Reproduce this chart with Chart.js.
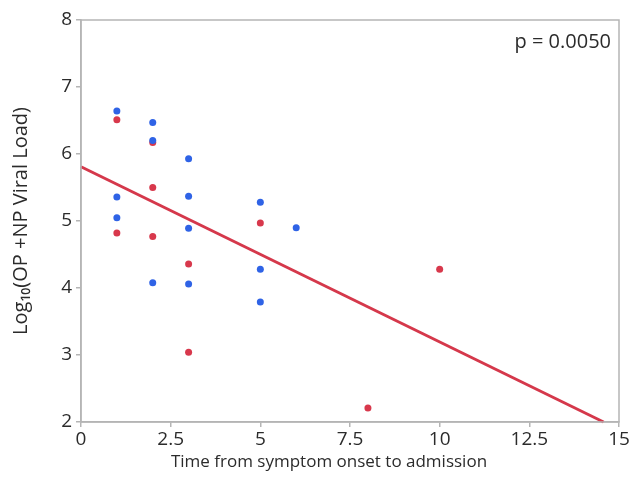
<!DOCTYPE html>
<html>
<head>
<meta charset="utf-8">
<script src="https://cdn.jsdelivr.net/npm/chart.js@4.4.1/dist/chart.umd.min.js"></script>
<style>
html,body{margin:0;padding:0;background:#fff;}
#wrap{width:631px;height:490px;position:relative;}
</style>
</head>
<body>
<div id="wrap"><canvas id="c" width="631" height="490"></canvas></div>
<script>
// Data
const blueX = [1, 1, 1, 2, 2, 2, 3, 3, 3, 3, 5, 5, 5, 6];
const blueY = [6.64, 5.36, 5.05, 6.47, 6.20, 4.08, 5.93, 5.37, 4.89, 4.06, 5.28, 4.28, 3.79, 4.90];
const redX = [1, 1, 2, 2, 2, 3, 3, 5, 8, 10];
const redY = [6.51, 4.82, 6.17, 5.50, 4.77, 4.36, 3.04, 4.97, 2.21, 4.28];
const fitX = [0, 14.57];
const fitY = [5.81, 2.0];
const xTicks = [0, 2.5, 5, 7.5, 10, 12.5, 15];
const yTicks = [2, 3, 4, 5, 6, 7, 8];
const pLabel = 'p = 0.0050';
const xTitle = 'Time from symptom onset to admission';
const yTitle = 'Log\u2081\u2080(OP +NP Viral Load)';

const FONT = "'Open Sans', 'DejaVu Sans', sans-serif";
const TXT = '#2b2b2b';
const AX = '#b5b5b5';

const toPts = (xs, ys) => xs.map((x, i) => ({x: x, y: ys[i]}));

const framePlugin = {
  id: 'frame',
  afterDatasetsDraw(chart) {
    const {ctx, chartArea: a} = chart;
    ctx.save();
    ctx.strokeStyle = AX;
    ctx.lineWidth = 1.5;
    ctx.strokeRect(a.left, a.top, a.right - a.left, a.bottom - a.top);
    ctx.fillStyle = TXT;
    ctx.font = "20px " + FONT;
    ctx.textAlign = 'right';
    ctx.textBaseline = 'middle';
    ctx.fillText(pLabel, a.right - 8, a.top + 22);
    // x-axis title (centred slightly left of the plot centre, as in the reference)
    ctx.font = "17px " + FONT;
    ctx.textAlign = 'center';
    ctx.fillText(xTitle, (a.left + a.right) / 2 - 21, a.bottom + 40);
    ctx.restore();
  }
};

new Chart(document.getElementById('c'), {
  type: 'scatter',
  data: {
    datasets: [
      {
        type: 'line',
        label: 'fit',
        data: toPts(fitX, fitY),
        borderColor: '#d5384b',
        borderWidth: 3,
        pointRadius: 0,
        fill: false,
        order: 2
      },
      {
        label: 'blue',
        data: toPts(blueX, blueY),
        backgroundColor: '#2f63e6',
        borderColor: '#2f63e6',
        pointRadius: 3.5,
        borderWidth: 0,
        order: 1
      },
      {
        label: 'red',
        data: toPts(redX, redY),
        backgroundColor: '#d8384c',
        borderColor: '#d8384c',
        pointRadius: 3.5,
        borderWidth: 0,
        order: 1
      }
    ]
  },
  options: {
    responsive: false,
    animation: false,
    clip: false,
    layout: {padding: {top: 20, right: 12, bottom: 0, left: 0}},
    plugins: {legend: {display: false}, tooltip: {enabled: false}},
    scales: {
      x: {
        type: 'linear',
        min: xTicks[0],
        max: xTicks[xTicks.length - 1],
        afterBuildTicks(s) { s.ticks = xTicks.map(v => ({value: v})); },
        afterFit(s) { s.height = 68; },
        grid: {drawOnChartArea: false, drawTicks: true, tickLength: 5, color: AX, lineWidth: 1.5},
        border: {display: true, color: AX, width: 1.5},
        ticks: {color: TXT, font: {family: FONT, size: 19}, padding: 1, maxRotation: 0},
        title: {display: false}
      },
      y: {
        type: 'linear',
        min: yTicks[0],
        max: yTicks[yTicks.length - 1],
        afterBuildTicks(s) { s.ticks = yTicks.map(v => ({value: v})); },
        afterFit(s) { s.width = 81; },
        grid: {drawOnChartArea: false, drawTicks: true, tickLength: 5, color: AX, lineWidth: 1.5},
        border: {display: true, color: AX, width: 1.5},
        ticks: {color: TXT, font: {family: FONT, size: 19}, padding: 4},
        title: {display: true, text: yTitle, color: TXT, font: {family: FONT, size: 20}, padding: {top: 9}}
      }
    }
  },
  plugins: [framePlugin]
});
</script>
</body>
</html>
